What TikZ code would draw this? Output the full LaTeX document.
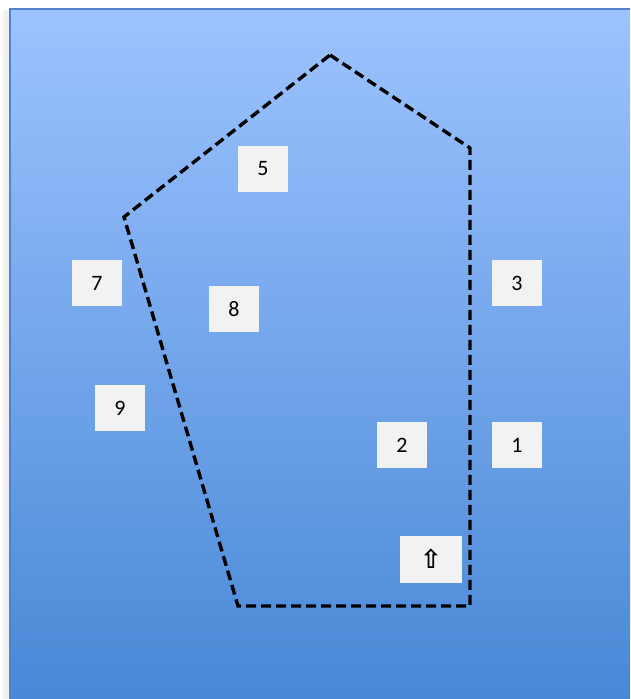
\documentclass[tikz,border=0pt]{standalone}
\usepackage{fontspec}
\setmainfont{Carlito}
\newfontfamily\symfont{DejaVu Sans}
\definecolor{bgtop}{RGB}{157,195,255}
\definecolor{bgbot}{RGB}{72,136,214}
\definecolor{bgedge}{RGB}{80,130,205}
\definecolor{boxfill}{RGB}{242,242,242}
\tikzset{
  lbl/.style={fill=boxfill, minimum width=50pt, minimum height=46pt, inner sep=0pt, font=\fontsize{22}{22}\selectfont},
  zone/.style={draw=black, line width=3.4pt, dash pattern=on 10pt off 5pt, line join=miter}
}
\begin{document}
\begin{tikzpicture}[x=1pt,y=-1pt]
\useasboundingbox (0,0) rectangle (630,699);
\fill[black!6] (4,10) rectangle (10,699);
\fill[black!3] (2,12) rectangle (4,699);
\shade[top color=bgtop, bottom color=bgbot] (9,8) rectangle (630,699);
\draw[bgedge, line width=1.5pt] (10,699) -- (10,9) -- (630,9);
\coordinate (p1) at (330,55);
\coordinate (p2) at (470,148);
\coordinate (p3) at (470,606);
\coordinate (p4) at (238,606);
\coordinate (p5) at (124,217);
\draw[zone] (p1) -- (p2) -- (p3) -- (p4) -- (p5) -- cycle;
\node[lbl] (n5) at (263,169) {5};
\node[lbl] (n7) at (97,283) {7};
\node[lbl] (n8) at (234,309) {8};
\node[lbl] (n9) at (120,408) {9};
\node[lbl] (n3) at (517,283) {3};
\node[lbl] (n2) at (402,445) {2};
\node[lbl] (n1) at (517,445) {1};
\node[lbl, minimum width=62pt, minimum height=47pt, font=\symfont\bfseries\fontsize{26}{26}\selectfont] (na) at (431,559) {⇧};
\end{tikzpicture}
\end{document}
